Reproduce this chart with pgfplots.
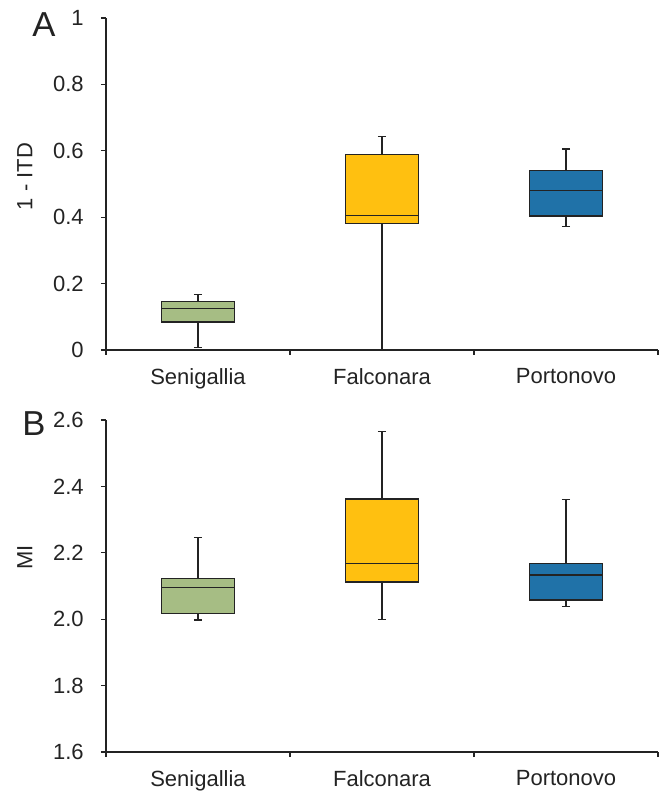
\documentclass[border=0pt]{standalone}
\usepackage{fontspec}
\setmainfont{Liberation Sans}
\usepackage{pgfplots}
\pgfplotsset{compat=1.18}
\usepgfplotslibrary{statistics}
\definecolor{sgreen}{RGB}{166,189,132}
\definecolor{fyellow}{RGB}{255,192,16}
\definecolor{pblue}{RGB}{32,114,168}
\definecolor{axcol}{RGB}{35,35,35}
\pgfplotsset{
  panel/.style={
    scale only axis, width=414pt, height=249pt,
    xmin=-0.5, xmax=2.5,
    axis x line=bottom, axis y line=left,
    axis line style={-, line width=1pt, axcol},
    tick align=outside,
    major tick length=3.75pt,
    tick style={line width=0.8pt, axcol},
    xtick={-0.5,0.5,1.5,2.5},
    x tick label as interval,
    xticklabels={Senigallia,Falconara,Portonovo},
    tick label style={font=\fontsize{16.5}{19}\selectfont, axcol},
    xticklabel style={yshift=-6.5pt},
    /pgf/number format/assume math mode=true,
    yticklabel style={xshift=-9.5pt},
    label style={font=\fontsize{16.5}{19}\selectfont, axcol},
    clip=false,
  },
  bx/.style={draw=axcol, line width=1pt, mark=none, solid},
  /pgfplots/boxplot/draw direction=y,
}
\begin{document}
\begin{tikzpicture}
\begin{axis}[panel, name=A, at={(0,301.5pt)}, anchor=south west,
  ymin=0, ymax=1, ytick={0,0.2,0.4,0.6,0.8,1},
  ylabel={1 - ITD},
  ylabel style={at={(axis description cs:-0.147,0.5225)}, anchor=center},
]
\addplot[bx, fill=sgreen, boxplot prepared={draw direction=y, draw position=0,
  lower whisker=0.008, lower quartile=0.084, median=0.125,
  upper quartile=0.146, upper whisker=0.168, box extend=0.4, whisker extend=0.045}] coordinates {};
\addplot[bx, fill=fyellow, boxplot prepared={draw direction=y, draw position=1,
  lower whisker=0.0, lower quartile=0.381, median=0.406,
  upper quartile=0.588, upper whisker=0.643, box extend=0.4, whisker extend=0.045}] coordinates {};
\addplot[bx, fill=pblue, boxplot prepared={draw direction=y, draw position=2,
  lower whisker=0.372, lower quartile=0.404, median=0.480,
  upper quartile=0.540, upper whisker=0.605, box extend=0.4, whisker extend=0.045}] coordinates {};
\end{axis}
\node[font=\fontsize{26}{30}\selectfont, axcol] at ([xshift=-46.5pt,yshift=243.75pt]A.south west) {A};
\begin{axis}[panel, name=B, at={(0,0)}, anchor=south west,
  ymin=1.6, ymax=2.6, ytick={1.6,1.8,2.0,2.2,2.4,2.6},
  yticklabel style={/pgf/number format/fixed, /pgf/number format/fixed zerofill, /pgf/number format/precision=1},
  ylabel={MI},
  ylabel style={at={(axis description cs:-0.147,0.587)}, anchor=center},
]
\addplot[bx, fill=sgreen, boxplot prepared={draw direction=y, draw position=0,
  lower whisker=1.998, lower quartile=2.017, median=2.096,
  upper quartile=2.123, upper whisker=2.246, box extend=0.4, whisker extend=0.045}] coordinates {};
\addplot[bx, fill=fyellow, boxplot prepared={draw direction=y, draw position=1,
  lower whisker=2.0, lower quartile=2.112, median=2.168,
  upper quartile=2.362, upper whisker=2.565, box extend=0.4, whisker extend=0.045}] coordinates {};
\addplot[bx, fill=pblue, boxplot prepared={draw direction=y, draw position=2,
  lower whisker=2.038, lower quartile=2.058, median=2.133,
  upper quartile=2.168, upper whisker=2.360, box extend=0.4, whisker extend=0.045}] coordinates {};
\end{axis}
\node[font=\fontsize{26}{30}\selectfont, axcol] at ([xshift=-54pt,yshift=246.4pt]B.south west) {B};
\pgfresetboundingbox
\path[use as bounding box] (-79.5pt,-30.75pt) rectangle (420.75pt,564pt);
\end{tikzpicture}
\end{document}
